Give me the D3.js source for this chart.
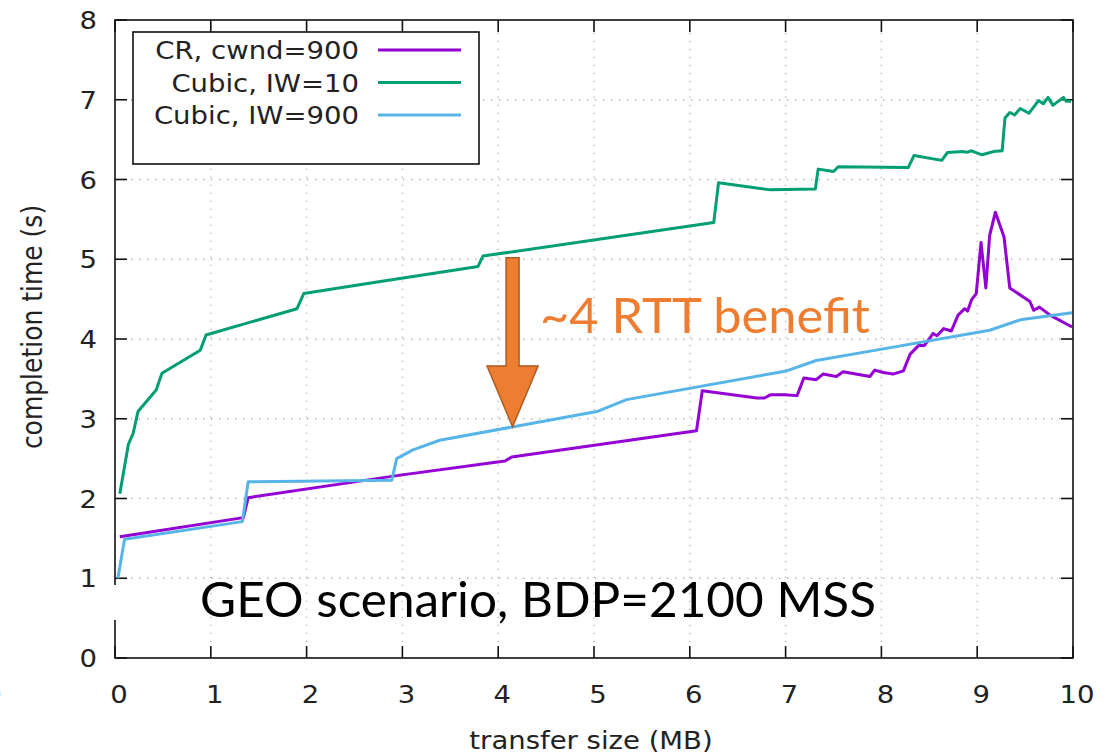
<!DOCTYPE html>
<html>
<head>
<meta charset="utf-8">
<script src="https://cdn.jsdelivr.net/npm/d3@7"></script>
<style>
  body { margin: 0; background: #fff; }
  svg { display: block; }
</style>
</head>
<body>
<div id="chart"></div>
<script>
"use strict";
// completion time vs transfer size, GEO scenario

var W = 1108, H = 755;
var margin = {left: 115, right: 35, top: 20, bottom: 97};

// tick values
var xTicks = [0, 1, 2, 3, 4, 5, 6, 7, 8, 9, 10];
var yTicks = [0, 1, 2, 3, 4, 5, 6, 7, 8];

var seriesNames = ["CR, cwnd=900", "Cubic, IW=10", "Cubic, IW=900"];
var seriesColors = ["#9400d3", "#009e73", "#56b4e9"];

// CR, cwnd=900
var crX = [0.05, 1.34, 1.39, 2.96, 4.07, 4.14, 6.07, 6.13, 6.70, 6.78, 6.84, 6.99, 7.12, 7.19, 7.32, 7.39,
           7.53, 7.60, 7.88, 7.93, 8.02, 8.12, 8.23, 8.30, 8.39, 8.45, 8.54, 8.58, 8.65, 8.73, 8.80, 8.87,
           8.90, 8.94, 8.99, 9.04, 9.09, 9.13, 9.19, 9.28, 9.34, 9.55, 9.59, 9.65, 9.76, 9.99];
var crY = [1.52, 1.76, 2.01, 2.29, 2.47, 2.52, 2.85, 3.35, 3.26, 3.26, 3.30, 3.30, 3.29, 3.51, 3.49, 3.56,
           3.53, 3.59, 3.53, 3.61, 3.58, 3.56, 3.60, 3.81, 3.92, 3.92, 4.07, 4.04, 4.13, 4.10, 4.30, 4.38,
           4.35, 4.49, 4.57, 5.21, 4.64, 5.30, 5.59, 5.28, 4.64, 4.47, 4.36, 4.40, 4.30, 4.15];

// Cubic, IW=10
var cubic10X = [0.05, 0.14, 0.19, 0.24, 0.43, 0.49, 0.89, 0.95, 1.90, 1.97, 2.77, 3.79, 3.84, 6.25, 6.30, 6.84,
                7.31, 7.34, 7.50, 7.55, 8.28, 8.34, 8.63, 8.69, 8.86, 8.89, 8.94, 9.05, 9.17, 9.26, 9.29, 9.34,
                9.39, 9.45, 9.54, 9.64, 9.69, 9.74, 9.79, 9.90, 9.93, 9.98];
var cubic10Y = [2.06, 2.68, 2.82, 3.09, 3.36, 3.57, 3.86, 4.05, 4.38, 4.57, 4.72, 4.91, 5.04, 5.46, 5.96, 5.87,
                5.88, 6.13, 6.10, 6.16, 6.15, 6.30, 6.24, 6.34, 6.35, 6.34, 6.36, 6.31, 6.35, 6.36, 6.77, 6.84,
                6.81, 6.89, 6.83, 6.99, 6.95, 7.03, 6.93, 7.03, 6.98, 6.98];

// Cubic, IW=900
var cubic900X = [0.03, 0.10, 1.33, 1.39, 2.89, 2.94, 3.11, 3.39, 4.16, 5.03, 5.34, 7.01, 7.32, 7.99, 9.13, 9.45, 9.99];
var cubic900Y = [1.00, 1.49, 1.71, 2.21, 2.23, 2.50, 2.61, 2.73, 2.90, 3.09, 3.24, 3.60, 3.73, 3.87, 4.11, 4.24, 4.33];

// annotation arrow (data coords)
var arrowX = 4.15, arrowTop = 5.02, arrowHeadStart = 3.66, arrowTip = 2.90;

var series = [
    {name: seriesNames[0], color: seriesColors[0], pts: d3.zip(crX, crY)},
    {name: seriesNames[1], color: seriesColors[1], pts: d3.zip(cubic10X, cubic10Y)},
    {name: seriesNames[2], color: seriesColors[2], pts: d3.zip(cubic900X, cubic900Y)}
];

var svg = d3.select("#chart").append("svg")
    .attr("width", W)
    .attr("height", H);

var x = d3.scaleLinear().domain([0, 10]).range([margin.left, W - margin.right]);
var y = d3.scaleLinear().domain([0, 8]).range([H - margin.bottom, margin.top]);

var FONT = "DejaVu Sans";
var STRETCH = 1.1; // source image was stretched horizontally

// gnuplot-like text helper
function gtext(str, tx, ty, anchor, rot) {
    var t = "translate(" + tx + "," + ty + ")" + (rot ? " rotate(" + rot + ")" : "") + " scale(" + (rot ? "1," + STRETCH : STRETCH + ",1") + ")";
    return svg.append("text")
        .attr("transform", t)
        .attr("text-anchor", anchor)
        .attr("font-family", FONT)
        .attr("font-size", 25)
        .attr("fill", "#222")
        .text(str);
}

// grid
var grid = svg.append("g").attr("stroke", "#b0b0b0").attr("stroke-width", 1.3)
    .attr("stroke-dasharray", "1.3,6.7");
grid.selectAll(".gx").data(xTicks.slice(1, -1)).enter().append("line")
    .attr("x1", d => x(d)).attr("x2", d => x(d))
    .attr("y1", y(0)).attr("y2", y(8));
grid.selectAll(".gy").data(yTicks.slice(1, -1)).enter().append("line")
    .attr("x1", x(0)).attr("x2", x(10))
    .attr("y1", d => y(d)).attr("y2", d => y(d));

// frame and inward ticks
var frame = svg.append("g").attr("stroke", "#111").attr("stroke-width", 1.6).attr("fill", "none");
frame.append("rect")
    .attr("x", x(0)).attr("y", y(8))
    .attr("width", x(10) - x(0)).attr("height", y(0) - y(8));
var TL = 12;
xTicks.forEach(function(d) {
    frame.append("line").attr("x1", x(d)).attr("x2", x(d)).attr("y1", y(0)).attr("y2", y(0) - TL);
    frame.append("line").attr("x1", x(d)).attr("x2", x(d)).attr("y1", y(8)).attr("y2", y(8) + TL);
});
yTicks.forEach(function(d) {
    frame.append("line").attr("x1", x(0)).attr("x2", x(0) + TL).attr("y1", y(d)).attr("y2", y(d));
    frame.append("line").attr("x1", x(10)).attr("x2", x(10) - TL).attr("y1", y(d)).attr("y2", y(d));
});

// tick labels
xTicks.forEach(function(d) {
    gtext(String(d), x(d) + 4, y(0) + 45, "middle");
});
yTicks.forEach(function(d) {
    gtext(String(d), x(0) - 18, y(d) + 9, "end");
});
// clipped label at the very left edge
gtext("0", -7, y(0) + 45, "middle");

// axis titles
gtext("transfer size (MB)", 591, 749, "middle");
gtext("completion time (s)", 42, 327, "middle", -90);

// lines
var line = d3.line().x(d => x(d[0])).y(d => y(d[1]));
svg.selectAll(".series").data(series).enter().append("path")
    .attr("d", d => line(d.pts))
    .attr("fill", "none")
    .attr("stroke", d => d.color)
    .attr("stroke-width", 3)
    .attr("stroke-linejoin", "round");

// legend
var lg = svg.append("g");
lg.append("rect")
    .attr("x", 133).attr("y", 32).attr("width", 346).attr("height", 132)
    .attr("fill", "#fff").attr("stroke", "#111").attr("stroke-width", 1.6);
series.forEach(function(s, i) {
    var cy = 50 + i * 32.5;
    gtext(s.name, 359, cy + 9, "end");
    lg.append("line")
        .attr("x1", 378).attr("x2", 461).attr("y1", cy).attr("y2", cy)
        .attr("stroke", s.color).attr("stroke-width", 3);
});

// gap in the left axis (covered by text box in source)
svg.append("rect").attr("x", x(0) - 3).attr("y", 585).attr("width", 6).attr("height", 35).attr("fill", "#fff");

// arrow annotation
var ax = x(arrowX), shaftW = 13, headW = 51;
svg.append("path")
    .attr("d", "M" + (ax - shaftW / 2) + "," + y(arrowTop) +
               "L" + (ax + shaftW / 2) + "," + y(arrowTop) +
               "L" + (ax + shaftW / 2) + "," + y(arrowHeadStart) +
               "L" + (ax + headW / 2) + "," + y(arrowHeadStart) +
               "L" + ax + "," + y(arrowTip) +
               "L" + (ax - headW / 2) + "," + y(arrowHeadStart) +
               "L" + (ax - shaftW / 2) + "," + y(arrowHeadStart) + "Z")
    .attr("fill", "#ed7d31")
    .attr("stroke", "#ae5a21")
    .attr("stroke-width", 1.5);

svg.append("text")
    .attr("x", 540).attr("y", 333)
    .attr("font-family", "Lato")
    .attr("font-size", 48)
    .attr("textLength", 330)
    .attr("lengthAdjust", "spacingAndGlyphs")
    .attr("fill", "#ed7d31")
    .text("~4 RTT benefit");

svg.append("text")
    .attr("x", 200).attr("y", 617)
    .attr("font-family", "Lato")
    .attr("font-size", 48)
    .attr("textLength", 676)
    .attr("lengthAdjust", "spacingAndGlyphs")
    .attr("fill", "#000")
    .text("GEO scenario, BDP=2100 MSS");
</script>
</body>
</html>
